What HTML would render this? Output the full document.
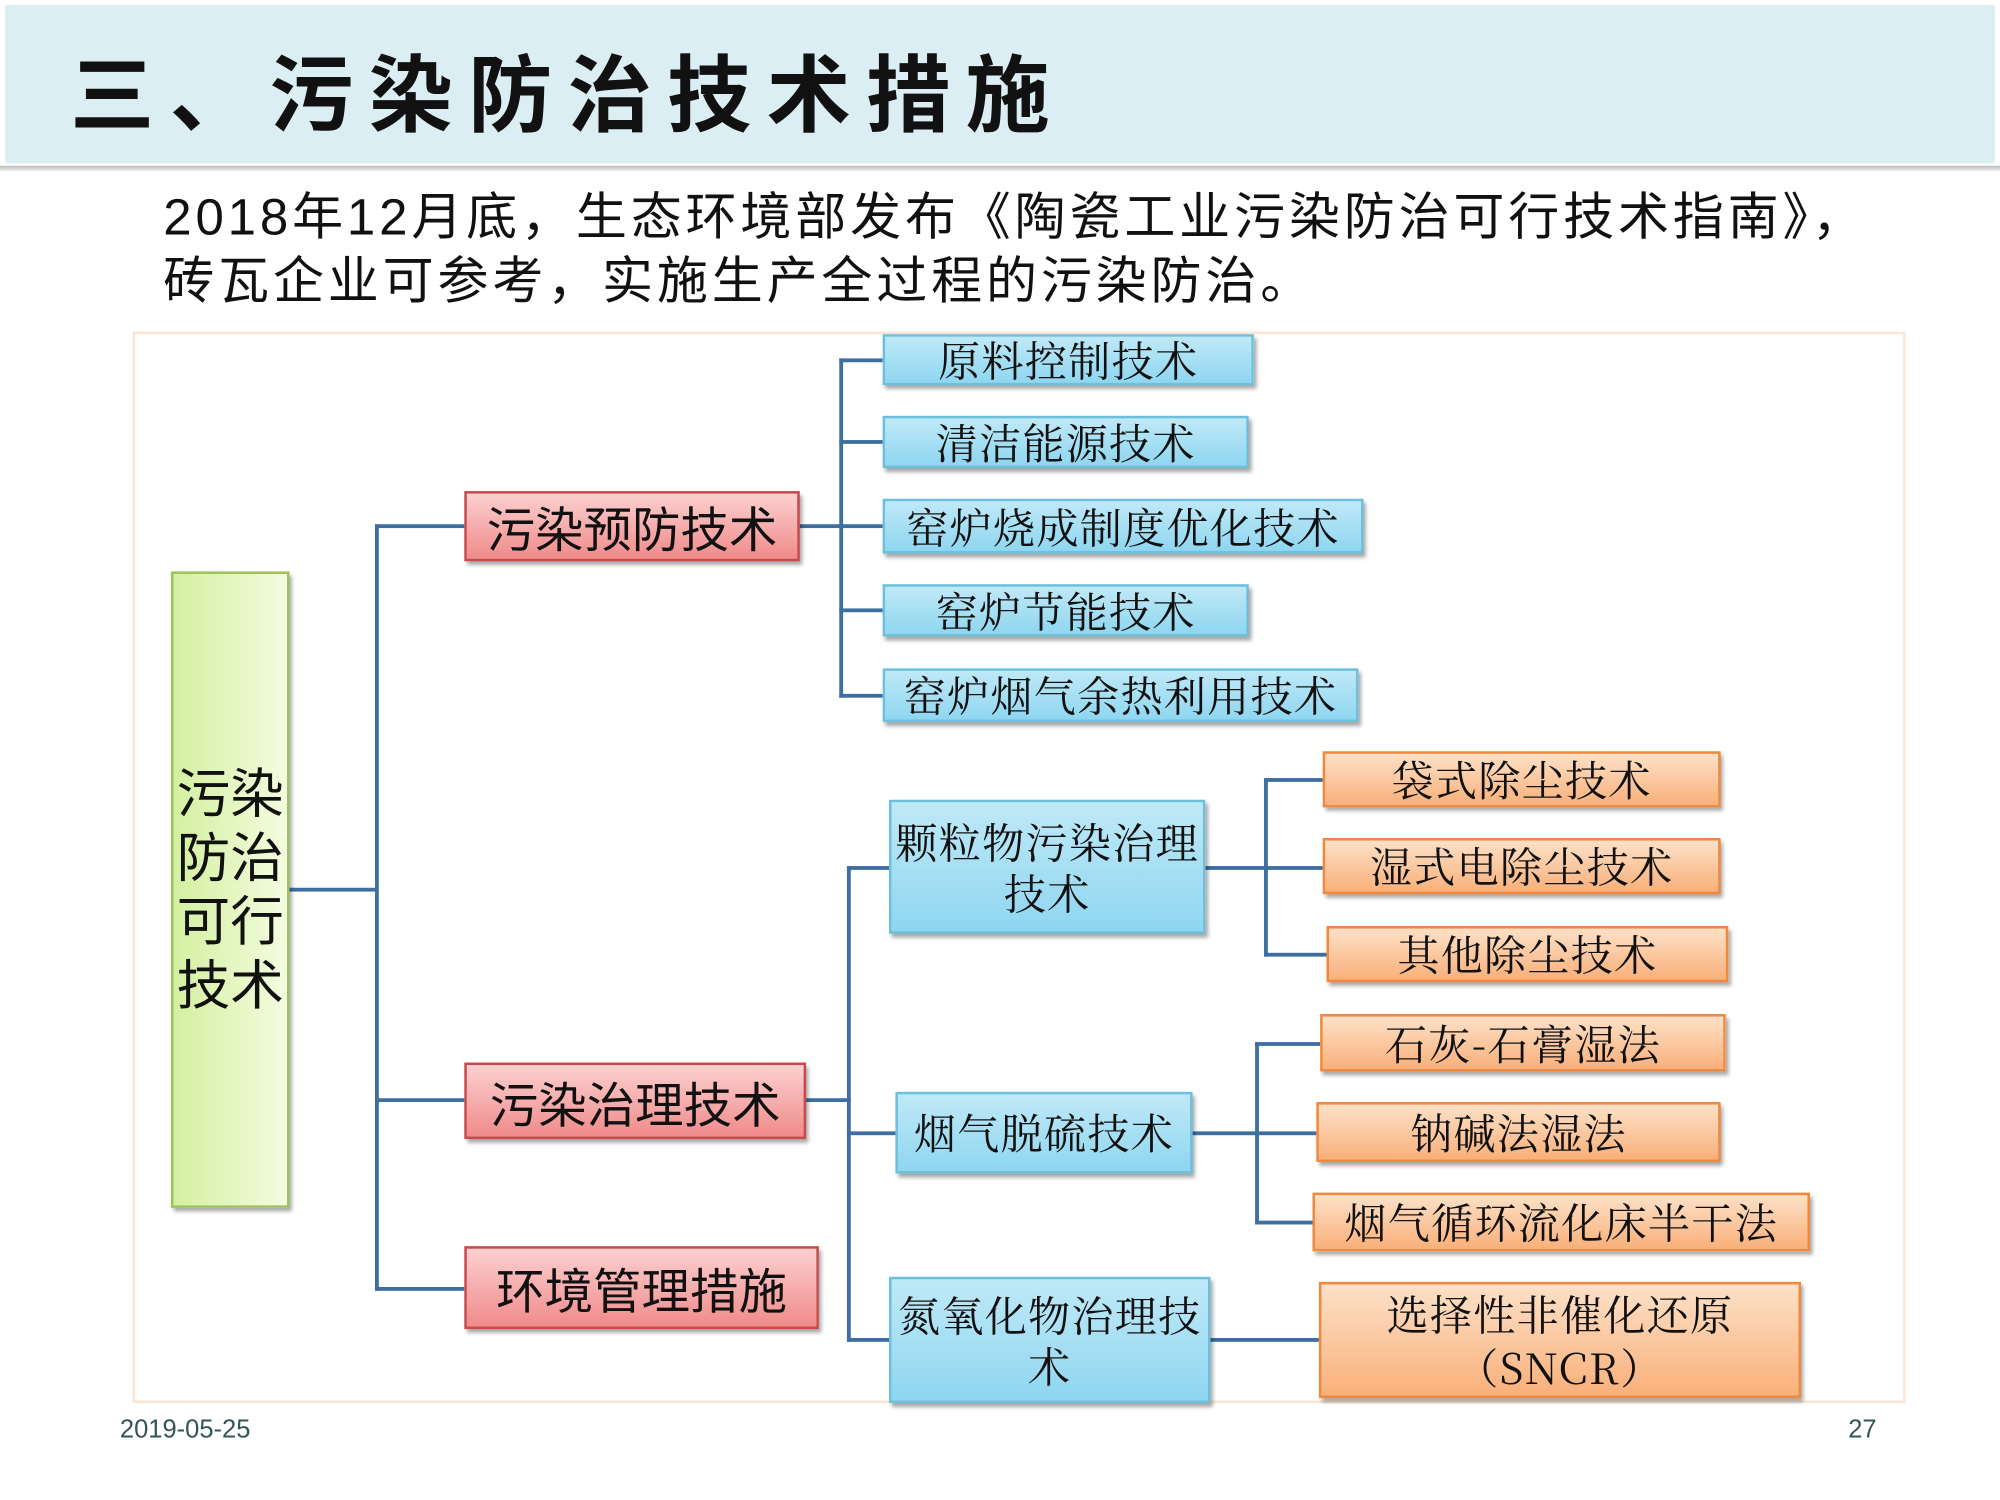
<!DOCTYPE html>
<html><head><meta charset="utf-8">
<style>
html,body{margin:0;padding:0;background:#fff;width:2000px;height:1500px;overflow:hidden}
#w{position:absolute;left:0;top:0;width:1568px;height:1176px;transform:scale(1.27551);transform-origin:0 0;font-family:"Liberation Sans","Noto Sans CJK SC",sans-serif}
.a{position:absolute;box-sizing:border-box}
.hdr{left:4px;top:4px;width:1560px;height:124px;background:#dbeef4}
.hl{left:0;top:130px;width:1568px;height:4px;background:linear-gradient(#bbb,#eee)}
.t{left:55px;top:22px;font-size:66px;line-height:96px;font-weight:bold;letter-spacing:12px;font-family:"Noto Sans CJK SC",sans-serif;color:#111;white-space:nowrap}
.s{left:128px;font-size:40px;color:#111;white-space:nowrap;font-family:"Liberation Sans","Noto Sans CJK SC",sans-serif;line-height:50px;letter-spacing:3px}
.fr{left:104px;top:260px;width:1390px;height:840px;border:2px solid #fbe6d6}
.b{display:flex;align-items:center;justify-content:center;text-align:center;box-shadow:2px 3px 3px rgba(0,0,0,.35);white-space:nowrap}
.bl{background:linear-gradient(#bfe9f7,#8fd6f0);border:2px solid #6cc0dc;font-family:"Noto Serif CJK SC",serif;font-size:33px;letter-spacing:1px;color:#111;line-height:40px}
.or{background:linear-gradient(#fde1c8,#f9b07a);border:2px solid #f0883e;font-family:"Noto Serif CJK SC",serif;font-size:33px;letter-spacing:1px;color:#111;line-height:42px}
.rd{background:linear-gradient(#fcd0d0,#f08b8b);border:2px solid #c94a4a;font-size:38px;color:#111}
.gr{background:linear-gradient(90deg,#d4f0a0,#f4fce0);border:2px solid #9cc45a;font-size:42px;line-height:50px;color:#111}
.h{position:absolute;height:3px;background:#3e6fa0}
.v{position:absolute;width:3px;background:#3e6fa0}
.ft{font-size:20px;color:#355;top:1110px}
</style></head><body><div id="w">
<div class="a hdr"></div><div class="a hl"></div>
<div class="a t">三、污染防治技术措施</div>
<div class="a s" style="top:146px">2018年12月底，生态环境部发布《陶瓷工业污染防治可行技术指南》，</div>
<div class="a s" style="top:196px">砖瓦企业可参考，实施生产全过程的污染防治。</div>
<div class="a fr"></div>

<div class="h" style="left:227px;top:696px;width:69px"></div>
<div class="v" style="left:294px;top:411px;height:601px"></div>
<div class="h" style="left:294px;top:411px;width:70px"></div>
<div class="h" style="left:294px;top:861px;width:70px"></div>
<div class="h" style="left:294px;top:1009px;width:70px"></div>

<div class="h" style="left:627px;top:411px;width:34px"></div>
<div class="v" style="left:658px;top:281px;height:266px"></div>
<div class="h" style="left:658px;top:281px;width:34px"></div>
<div class="h" style="left:658px;top:345px;width:34px"></div>
<div class="h" style="left:658px;top:411px;width:34px"></div>
<div class="h" style="left:658px;top:477px;width:34px"></div>
<div class="h" style="left:658px;top:544px;width:34px"></div>

<div class="h" style="left:632px;top:861px;width:35px"></div>
<div class="v" style="left:664px;top:679px;height:373px"></div>
<div class="h" style="left:664px;top:679px;width:33px"></div>
<div class="h" style="left:664px;top:887px;width:38px"></div>
<div class="h" style="left:664px;top:1049px;width:33px"></div>

<div class="h" style="left:945px;top:679px;width:49px"></div>
<div class="v" style="left:991px;top:610px;height:140px"></div>
<div class="h" style="left:991px;top:610px;width:46px"></div>
<div class="h" style="left:991px;top:679px;width:46px"></div>
<div class="h" style="left:991px;top:747px;width:49px"></div>

<div class="h" style="left:935px;top:887px;width:52px"></div>
<div class="v" style="left:984px;top:817px;height:143px"></div>
<div class="h" style="left:984px;top:817px;width:51px"></div>
<div class="h" style="left:984px;top:887px;width:48px"></div>
<div class="h" style="left:984px;top:957px;width:45px"></div>

<div class="h" style="left:949px;top:1049px;width:85px"></div>

<div class="a b gr" style="left:134px;top:448px;width:93px;height:499px">污染<br>防治<br>可行<br>技术</div>
<div class="a b rd" style="left:364px;top:385px;width:263px;height:55px">污染预防技术</div>
<div class="a b rd" style="left:364px;top:833px;width:268px;height:60px">污染治理技术</div>
<div class="a b rd" style="left:364px;top:977px;width:278px;height:65px">环境管理措施</div>

<div class="a b bl" style="left:692px;top:262px;width:291px;height:40px">原料控制技术</div>
<div class="a b bl" style="left:692px;top:326px;width:287px;height:41px">清洁能源技术</div>
<div class="a b bl" style="left:692px;top:391px;width:377px;height:43px">窑炉烧成制度优化技术</div>
<div class="a b bl" style="left:692px;top:458px;width:287px;height:41px">窑炉节能技术</div>
<div class="a b bl" style="left:692px;top:524px;width:373px;height:42px">窑炉烟气余热利用技术</div>

<div class="a b bl" style="left:697px;top:627px;width:248px;height:105px">颗粒物污染治理<br>技术</div>
<div class="a b bl" style="left:702px;top:856px;width:233px;height:64px">烟气脱硫技术</div>
<div class="a b bl" style="left:697px;top:1001px;width:252px;height:99px">氮氧化物治理技<br>术</div>

<div class="a b or" style="left:1037px;top:589px;width:312px;height:44px">袋式除尘技术</div>
<div class="a b or" style="left:1037px;top:657px;width:312px;height:44px">湿式电除尘技术</div>
<div class="a b or" style="left:1040px;top:726px;width:315px;height:44px">其他除尘技术</div>
<div class="a b or" style="left:1035px;top:795px;width:318px;height:45px">石灰-石膏湿法</div>
<div class="a b or" style="left:1032px;top:864px;width:317px;height:47px">钠碱法湿法</div>
<div class="a b or" style="left:1029px;top:935px;width:390px;height:46px">烟气循环流化床半干法</div>
<div class="a b or" style="left:1034px;top:1005px;width:378px;height:91px">选择性非催化还原<br>（SNCR）</div>

<div class="a ft" style="left:94px">2019-05-25</div>
<div class="a ft" style="left:1449px">27</div>
</div></body></html>
